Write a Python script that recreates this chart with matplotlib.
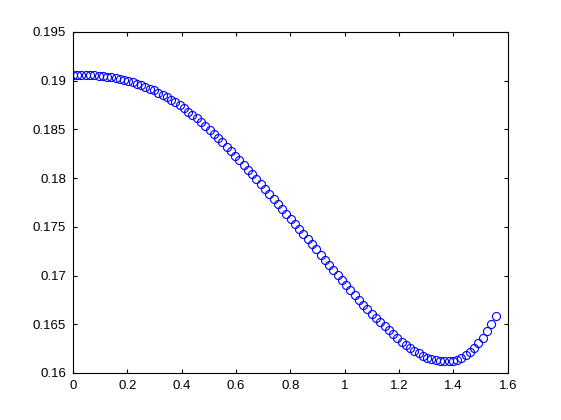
import matplotlib

matplotlib.use("Agg")

import matplotlib.pyplot as plt
from matplotlib.ticker import FuncFormatter


# sample positions (about 100 evenly spaced points)
X_VALUES = [
    0.0000, 0.0157, 0.0314, 0.0471, 0.0628, 0.0785, 0.0942, 0.1100, 0.1257, 0.1414,
    0.1571, 0.1728, 0.1885, 0.2042, 0.2199, 0.2356, 0.2513, 0.2670, 0.2827, 0.2985,
    0.3142, 0.3299, 0.3456, 0.3613, 0.3770, 0.3927, 0.4084, 0.4241, 0.4398, 0.4555,
    0.4712, 0.4869, 0.5027, 0.5184, 0.5341, 0.5498, 0.5655, 0.5812, 0.5969, 0.6126,
    0.6283, 0.6440, 0.6597, 0.6754, 0.6912, 0.7069, 0.7226, 0.7383, 0.7540, 0.7697,
    0.7854, 0.8011, 0.8168, 0.8325, 0.8482, 0.8639, 0.8796, 0.8954, 0.9111, 0.9268,
    0.9425, 0.9582, 0.9739, 0.9896, 1.0053, 1.0210, 1.0367, 1.0524, 1.0681, 1.0838,
    1.0996, 1.1153, 1.1310, 1.1467, 1.1624, 1.1781, 1.1938, 1.2095, 1.2252, 1.2409,
    1.2566, 1.2723, 1.2881, 1.3038, 1.3195, 1.3352, 1.3509, 1.3666, 1.3823, 1.3980,
    1.4137, 1.4294, 1.4451, 1.4608, 1.4765, 1.4923, 1.5080, 1.5237, 1.5394, 1.5551,
]

Y_VALUES = [
    0.19062, 0.19062, 0.19061, 0.19059, 0.19057, 0.19054, 0.19051, 0.19047, 0.19042, 0.19035,
    0.19028, 0.19019, 0.19008, 0.18997, 0.18984, 0.18970, 0.18954, 0.18937, 0.18919, 0.18899,
    0.18878, 0.18855, 0.18830, 0.18804, 0.18776, 0.18746, 0.18715, 0.18682, 0.18648, 0.18612,
    0.18574, 0.18535, 0.18495, 0.18454, 0.18411, 0.18368, 0.18323, 0.18278, 0.18231, 0.18184,
    0.18136, 0.18088, 0.18039, 0.17990, 0.17940, 0.17890, 0.17840, 0.17789, 0.17739, 0.17687,
    0.17635, 0.17583, 0.17531, 0.17479, 0.17427, 0.17374, 0.17321, 0.17268, 0.17214, 0.17161,
    0.17109, 0.17056, 0.17003, 0.16951, 0.16900, 0.16848, 0.16798, 0.16749, 0.16701, 0.16654,
    0.16608, 0.16563, 0.16520, 0.16477, 0.16436, 0.16396, 0.16357, 0.16320, 0.16286, 0.16254,
    0.16225, 0.16200, 0.16177, 0.16158, 0.16142, 0.16130, 0.16123, 0.16120, 0.16121, 0.16126,
    0.16137, 0.16155, 0.16181, 0.16215, 0.16256, 0.16305, 0.16362, 0.16426, 0.16499, 0.16580,
]

X_TICKS = [0, 0.2, 0.4, 0.6, 0.8, 1.0, 1.2, 1.4, 1.6]
Y_TICKS = [0.16, 0.165, 0.17, 0.175, 0.18, 0.185, 0.19, 0.195]


def short_label(value, _pos):
    return f"{value:g}"


def main():
    plt.rcParams["font.family"] = ["Liberation Sans", "DejaVu Sans"]

    fig = plt.figure(figsize=(5.61, 4.2), dpi=100, facecolor="white")
    ax = fig.add_axes([0.13, 0.112, 0.775, 0.812])

    ax.plot(
        X_VALUES,
        Y_VALUES,
        linestyle="none",
        marker="o",
        markersize=5.8,
        markerfacecolor="none",
        markeredgecolor="#0000ff",
        markeredgewidth=0.8,
    )

    ax.set_xlim(0, 1.6)
    ax.set_ylim(0.16, 0.195)
    ax.set_xticks(X_TICKS)
    ax.set_yticks(Y_TICKS)
    ax.xaxis.set_major_formatter(FuncFormatter(short_label))
    ax.yaxis.set_major_formatter(FuncFormatter(short_label))

    ax.tick_params(
        direction="in",
        length=3.2,
        width=0.8,
        labelsize=9.5,
        top=True,
        right=True,
        pad=5,
    )
    for spine in ax.spines.values():
        spine.set_linewidth(0.8)

    fig.savefig("out.png", dpi=100, facecolor="white")
    plt.close(fig)


if __name__ == "__main__":
    main()
